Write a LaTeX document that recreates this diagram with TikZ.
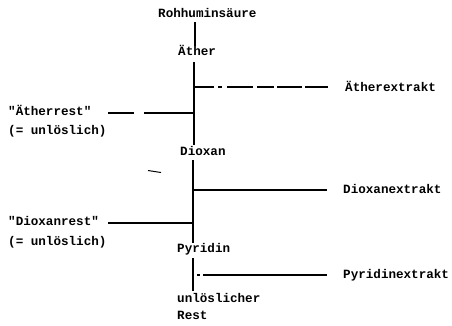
\documentclass[tikz,border=0pt]{standalone}
\usepackage{fontspec}
\newfontfamily\tw{Liberation Mono}
\begin{document}
\begin{tikzpicture}[x=1pt,y=-1pt,
  lbl/.style={anchor=west,inner sep=0pt,text height=7pt,text depth=2pt,font=\tw\bfseries\fontsize{12.6}{14}\selectfont},
  trunk/.style={line width=2.4pt},
  branch/.style={line width=1.6pt}]
\useasboundingbox (0,0) rectangle (452,325);
% texts
\node[lbl] (roh) at (158,15) {Rohhuminsäure};
\node[lbl] (aether) at (178,53) {Äther};
\node[lbl] (aext) at (345,89) {Ätherextrakt};
\node[lbl] (arest) at (8,113) {"Ätherrest"};
\node[lbl] (arest2) at (8,132) {(= unlöslich)};
\node[lbl] (diox) at (180,153) {Dioxan};
\node[lbl] (dext) at (343,191) {Dioxanextrakt};
\node[lbl] (drest) at (8,223) {"Dioxanrest"};
\node[lbl] (drest2) at (8,243) {(= unlöslich)};
\node[lbl] (pyr) at (177,250) {Pyridin};
\node[lbl] (pext) at (343,276) {Pyridinextrakt};
\node[lbl] (unl) at (177,300) {unlöslicher};
\node[lbl] (rest) at (177,317) {Rest};
% junction coordinates
\coordinate (t1a) at (195,22);
\coordinate (t1b) at (195,46);
\coordinate (t2a) at (194,62);
\coordinate (t2b) at (194,145);
\coordinate (j1) at (194,87);
\coordinate (e1) at (328,87);
\coordinate (j2) at (194,113);
\coordinate (r1) at (108,113);
\coordinate (t3a) at (193,160);
\coordinate (t3b) at (193,243);
\coordinate (j3) at (193,190);
\coordinate (e2) at (327,190);
\coordinate (j4) at (193,223);
\coordinate (r2) at (108,223);
\coordinate (t4a) at (193,258);
\coordinate (t4b) at (193,291);
\coordinate (j5) at (197,275);
\coordinate (e3) at (327,275);
\coordinate (s1) at (148,170.5);
\coordinate (s2) at (161,172.5);
% trunk lines
\draw[trunk] (t1a) -- (t1b);
\draw[trunk] (t2a) -- (t2b);
\draw[trunk] (t3a) -- (t3b);
\draw[trunk] (t4a) -- (t4b);
% branches
\draw[branch,dash pattern=on 20pt off 4pt on 4pt off 5pt on 26pt off 4pt on 17pt off 3pt on 25pt off 3pt on 40pt] (j1) -- (e1);
\draw[branch,dash pattern=on 26pt off 10pt on 60pt] (r1) -- (j2);
\draw[branch] (j3) -- (e2);
\draw[branch] (r2) -- (j4);
\draw[branch,dash pattern=on 3pt off 3pt on 200pt] (j5) -- (e3);
\draw[line width=1pt] (s1) -- (s2);
\end{tikzpicture}
\end{document}
